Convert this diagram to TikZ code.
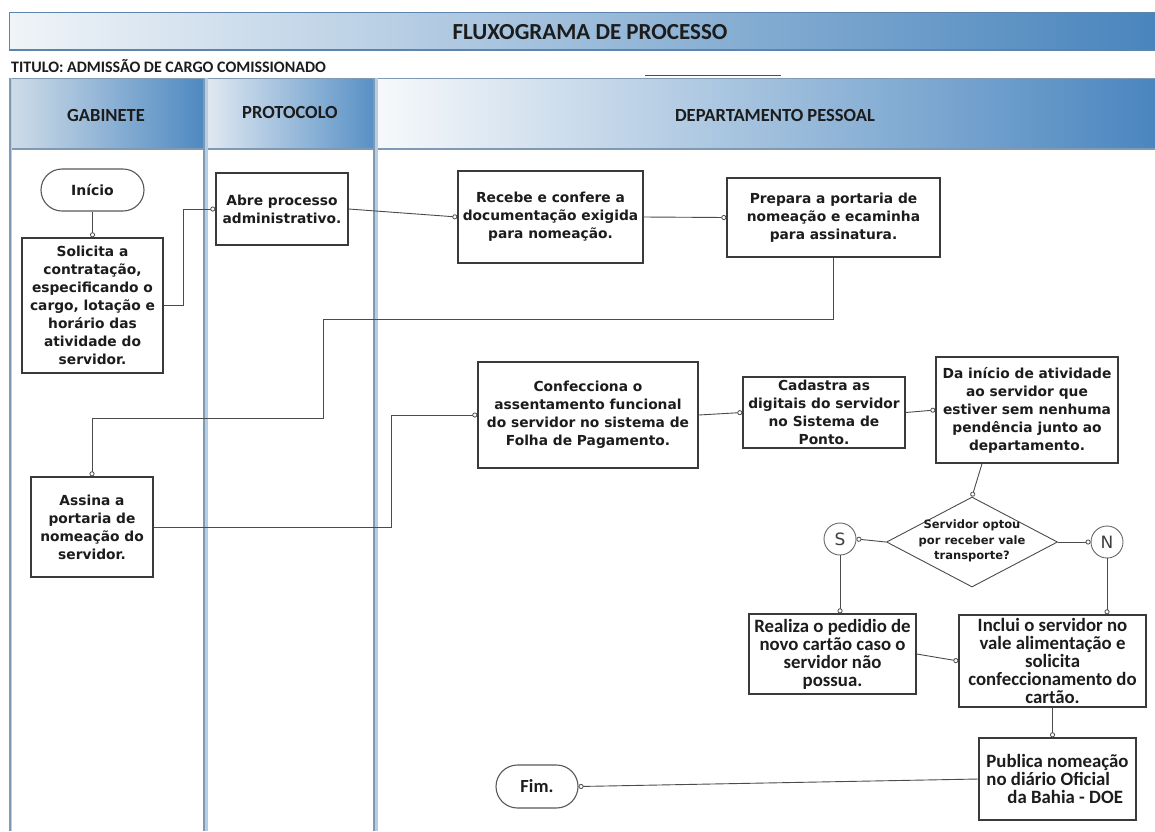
\documentclass[tikz,border=0pt]{standalone}
\usepackage{fontspec}
\setmainfont{DejaVu Sans}
\newfontfamily\narrowfont{Carlito}
\usetikzlibrary{arrows.meta,shapes.geometric,shapes.misc}

\definecolor{ink}{HTML}{1C1C1C}
\definecolor{boxedge}{HTML}{3A3A3A}
\definecolor{wire}{HTML}{4B4B4B}
\definecolor{lanelight}{HTML}{B7CDE1}
\definecolor{lanedark}{HTML}{7E9AB4}
\definecolor{frameblue}{HTML}{5D84AC}
\definecolor{bandL}{HTML}{F0F4F8}
\definecolor{bandM}{HTML}{C3D6E8}
\definecolor{bandR}{HTML}{4985BD}
\definecolor{gabL}{HTML}{CFDCE8}
\definecolor{gabR}{HTML}{4E89C1}
\definecolor{protL}{HTML}{E2EAF2}
\definecolor{protR}{HTML}{568FC5}
\definecolor{depL}{HTML}{F7F9FB}
\definecolor{depM}{HTML}{D3E1ED}
\definecolor{depR}{HTML}{4A86BF}

\tikzset{
  stepbox/.style={rectangle, draw=boxedge, line width=1.4pt, fill=white, text=ink,
    align=center, inner sep=0pt, font=\fontsize{13.8}{18}\selectfont\bfseries},
  narrowbox/.style={stepbox, font=\narrowfont\fontsize{18.8}{18}\selectfont\bfseries},
  terminal/.style={rounded rectangle, draw=boxedge!85, line width=1.1pt, fill=white,
    text=ink, inner sep=0pt},
  choice/.style={diamond, draw=wire, line width=0.9pt, fill=white, inner sep=0pt},
  choicetext/.style={text=ink, align=center, inner sep=0pt,
    font=\fontsize{11.5}{15.3}\selectfont\bfseries},
  joint/.style={circle, draw=wire!85, line width=0.9pt, fill=white, text=ink!85,
    inner sep=0pt, minimum size=32pt, font=\fontsize{17}{17}\selectfont},
  flow/.style={draw=wire, line width=0.9pt,
    -{Circle[open, fill=white, length=5pt, width=5pt, line width=0.8pt]}},
  lanehead/.style={text=ink, font=\narrowfont\fontsize{18.5}{18.5}\selectfont\bfseries},
}

\begin{document}
\begin{tikzpicture}[x=1pt,y=-1pt]
\useasboundingbox (0,0) rectangle (1155,831);
\fill[white] (0,0) rectangle (1155,831);

% ---- title band ----
\shade[left color=bandL, middle color=bandM, right color=bandR] (9,12) rectangle (1155,50);
\draw[frameblue, line width=1pt] (9,50) -- (9,12) -- (1155,12);
\draw[frameblue, line width=2.2pt] (9,50) -- (1155,50);
\node[text=ink, font=\narrowfont\fontsize{23}{23}\selectfont\bfseries] (title) at (590,32) {FLUXOGRAMA DE PROCESSO};

\node[anchor=west, inner sep=0pt, text=ink, font=\narrowfont\fontsize{16}{16}\selectfont\bfseries] (subject) at (11,66) {TITULO: ADMISSÃO DE CARGO COMISSIONADO};
\coordinate (blankL) at (645,75);
\coordinate (blankR) at (781,75);
\draw[line width=1pt, black!70] (blankL) -- (blankR);

% ---- lane headers ----
\shade[left color=gabL, right color=gabR] (11,78) rectangle (204,149);
\shade[left color=protL, right color=protR] (204,78) rectangle (376,149);
\shade[left color=depL, middle color=depM, right color=depR] (376,78) rectangle (1155,149);
\draw[lanedark, line width=1pt] (11,78) -- (1155,78);
\draw[lanedark, line width=1.4pt] (11,149) -- (1155,149);

\node[lanehead] (hgab) at (106,115) {GABINETE};
\node[lanehead] (hprot) at (290,112) {PROTOCOLO};
\node[lanehead] (hdep) at (775,115) {DEPARTAMENTO PESSOAL};

% ---- lane borders ----
\draw[lanelight, line width=3pt] (10,78) -- (10,831);
\draw[lanedark, line width=1.2pt] (10,78) -- (10,831);
\draw[lanelight, line width=5pt] (205,78) -- (205,831);
\draw[lanedark, line width=1.6pt] (204,78) -- (204,831);
\draw[lanelight, line width=5pt] (375,78) -- (375,831);
\draw[lanedark, line width=1.6pt] (374,78) -- (374,831);

% ---- process steps ----
\node[terminal, minimum width=103pt, minimum height=42pt, font=\fontsize{14}{18}\selectfont\bfseries] (ini) at (92.5,190) {Início};

\node[stepbox, minimum width=141pt, minimum height=135pt] (sol) at (92.5,305.5)
  {Solicita a\\contratação,\\especificando o\\cargo, lotação e\\horário das\\atividade do\\servidor.};

\node[stepbox, minimum width=132pt, minimum height=72pt] (abre) at (282,209)
  {Abre processo\\administrativo.};

\node[stepbox, minimum width=185pt, minimum height=92pt] (rec) at (550.5,217)
  {Recebe e confere a\\documentação exigida\\para nomeação.};

\node[stepbox, minimum width=213pt, minimum height=79pt] (prep) at (833.5,217.5)
  {Prepara a portaria de\\nomeação e ecaminha\\para assinatura.};

\node[stepbox, minimum width=122pt, minimum height=100pt] (ass) at (92,527)
  {Assina a\\portaria de\\nomeação do\\servidor.};

\node[stepbox, minimum width=220pt, minimum height=106pt] (conf) at (588,415)
  {Confecciona o\\assentamento funcional\\do servidor no sistema de\\Folha de Pagamento.};

\node[stepbox, minimum width=162pt, minimum height=71pt] (cad) at (824,412.5)
  {Cadastra as\\digitais do servidor\\no Sistema de\\Ponto.};

\node[stepbox, minimum width=182pt, minimum height=106pt] (dai) at (1027,410)
  {Da início de atividade\\ao servidor que\\estiver sem nenhuma\\pendência junto ao\\departamento.};

\node[choice, minimum width=171pt, minimum height=90pt] (dec) at (972,542) {};
\node[choicetext] (dectxt) at (972,541) {Servidor optou\\por receber vale\\transporte?};

\node[joint] (sim) at (840,539) {S};
\node[joint] (nao) at (1107,542) {N};

\node[narrowbox, minimum width=167pt, minimum height=80pt] (real) at (832.5,654)
  {Realiza o pedidio de\\novo cartão caso o\\servidor não\\possua.};

\node[narrowbox, minimum width=187pt, minimum height=92pt] (inc) at (1052.5,661)
  {Inclui o servidor no\\vale alimentação e\\solicita\\confeccionamento do\\cartão.};

\node[narrowbox, minimum width=157pt, minimum height=82pt, align=left] (pub) at (1057.5,779)
  {Publica nomeação\\no diário Oficial\\\hspace*{21pt}da Bahia - DOE};

\node[terminal, minimum width=82pt, minimum height=43pt, font=\narrowfont\fontsize{18.5}{18}\selectfont\bfseries] (fim) at (537,786.5) {Fim.};

% ---- connectors ----
\coordinate (bendA) at (323,319);
\coordinate (bendB) at (323,418);
\coordinate (bendC) at (391,415);

\draw[flow] (ini.south) -- (sol.north);
\draw[flow] (sol.east) -- ++(20,0) |- (abre.west);
\draw[flow] (abre.east) -- (rec.west);
\draw[flow] (rec.east) -- (prep.west);
\draw[flow] (prep.south) |- (bendA) -- (bendB) -| (ass.north);
\draw[flow] (ass.east) -| (bendC) -- (conf.west);
\draw[flow] (conf.east) -- (cad.west);
\draw[flow] (cad.east) -- (dai.west);
\draw[flow] ([xshift=-45pt]dai.south) -- (dec.north);
\draw[flow] (dec.west) -- (sim.east);
\draw[flow] (dec.east) -- (nao.west);
\draw[flow] (sim.south) -- (sim.south |- real.north);
\draw[flow] (nao.south) -- (nao.south |- inc.north);
\draw[flow] (real.east) -- (inc.west);
\draw[flow] (inc.south) -- (inc.south |- pub.north);
\draw[flow] (pub.west) -- (fim.east);
\end{tikzpicture}
\end{document}
